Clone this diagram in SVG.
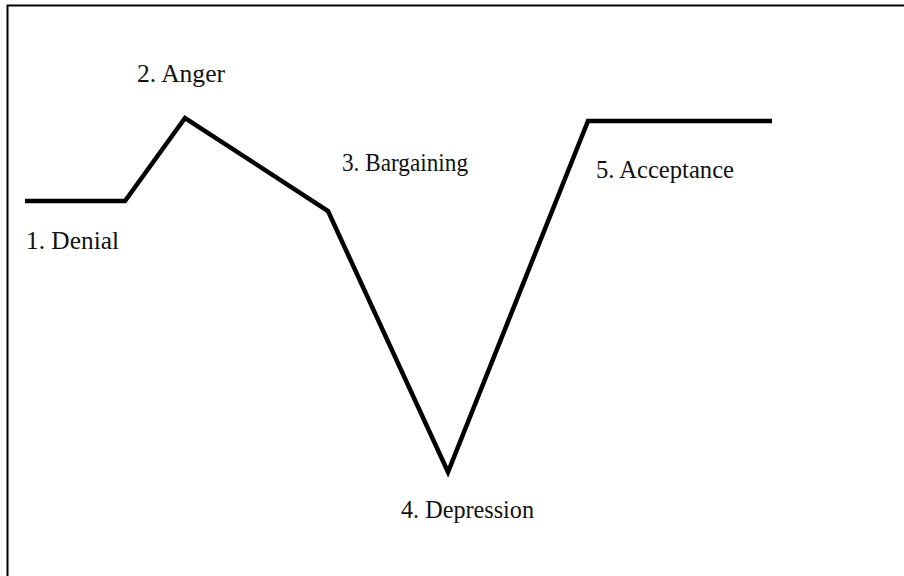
<svg xmlns="http://www.w3.org/2000/svg" width="904" height="576" viewBox="0 0 904 576">
<style>
.lbl{font-family:"Liberation Serif","Times New Roman",serif;font-size:25px;fill:#111}
.frame{stroke:#000;stroke-width:2;fill:none}
.curve{stroke:#000;stroke-width:4.5;fill:none;stroke-linejoin:miter;stroke-linecap:butt}
</style>
<rect width="904" height="576" fill="#fff"/>
<path class="frame" d="M7.5 576 V5.5 H904"/>
<g id="connectors">
<polyline class="curve" points="25,201 125,201 185,118 328,211 448,472 588,121 772,121"/>
</g>
<g id="denial"><text class="lbl" x="26" y="249" textLength="93" lengthAdjust="spacingAndGlyphs">1. Denial</text></g>
<g id="anger"><text class="lbl" x="137" y="82" textLength="88" lengthAdjust="spacingAndGlyphs">2. Anger</text></g>
<g id="bargaining"><text class="lbl" x="342" y="171" textLength="126" lengthAdjust="spacingAndGlyphs">3. Bargaining</text></g>
<g id="depression"><text class="lbl" x="401" y="518" textLength="133" lengthAdjust="spacingAndGlyphs">4. Depression</text></g>
<g id="acceptance"><text class="lbl" x="596" y="178" textLength="138" lengthAdjust="spacingAndGlyphs">5. Acceptance</text></g>
</svg>
